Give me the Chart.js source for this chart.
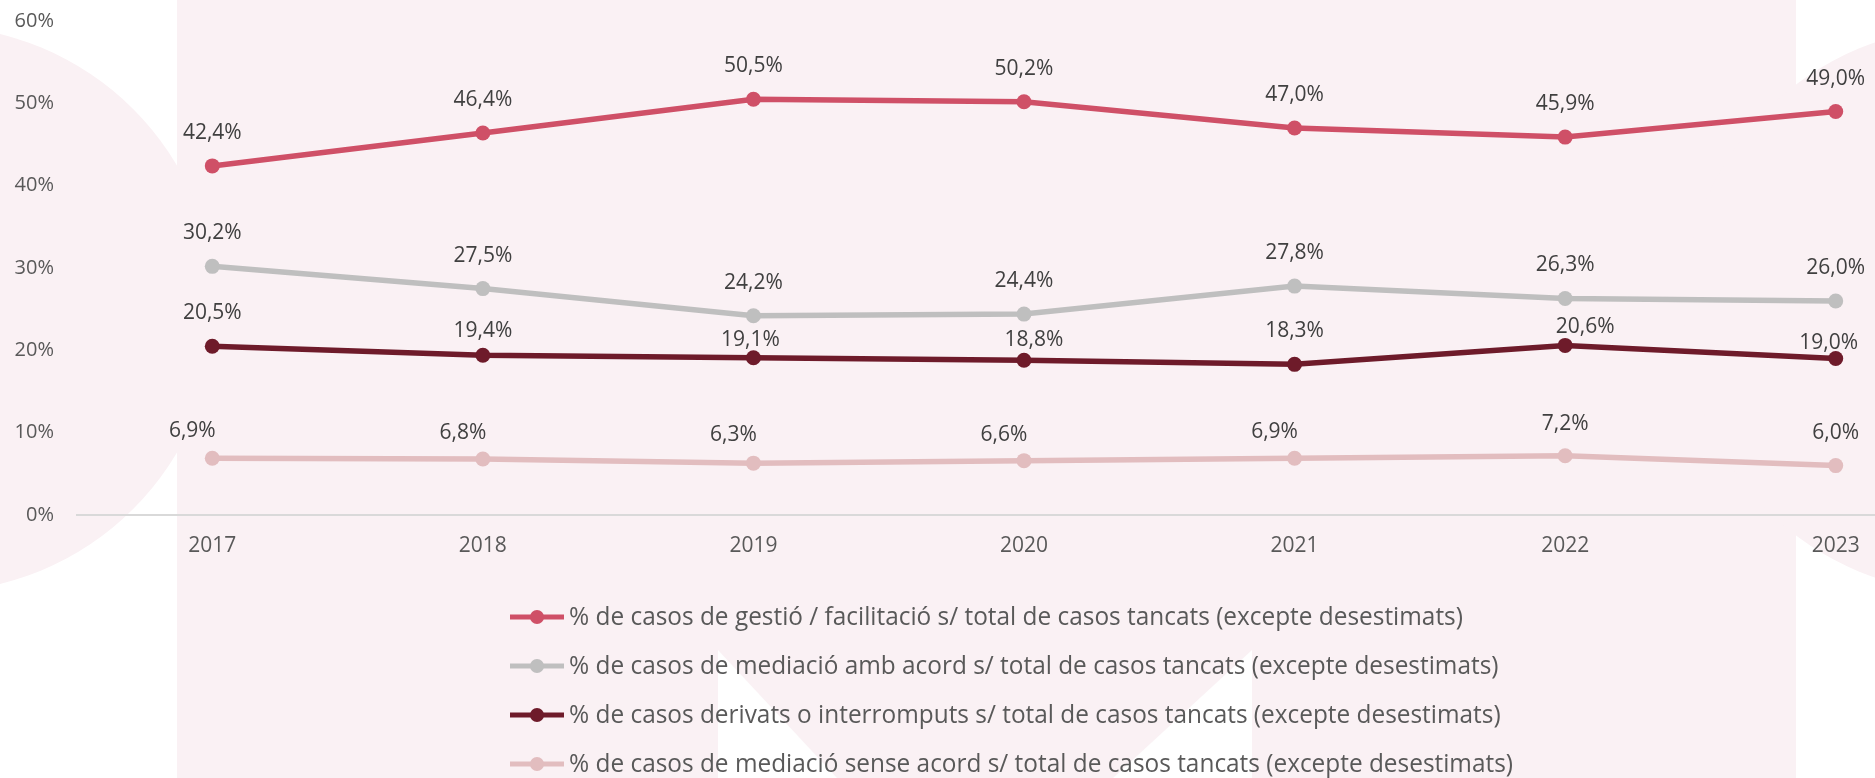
<!DOCTYPE html>
<html>
<head>
<meta charset="utf-8">
<script src="https://cdn.jsdelivr.net/npm/chart.js@4.4.1/dist/chart.umd.min.js"></script>
<style>
  html, body { margin: 0; padding: 0; background: #fff; overflow: hidden; }
  #wrap { width: 2000px; height: 778px; }
</style>
</head>
<body>
<div id="wrap"><canvas id="chart1" width="2000" height="778"></canvas></div>
<script>
// Data
const years = ['2017', '2018', '2019', '2020', '2021', '2022', '2023'];
const gestio = [42.4, 46.4, 50.5, 50.2, 47.0, 45.9, 49.0];
const ambAcord = [30.2, 27.5, 24.2, 24.4, 27.8, 26.3, 26.0];
const derivats = [20.5, 19.4, 19.1, 18.8, 18.3, 20.6, 19.0];
const senseAcord = [6.9, 6.8, 6.3, 6.6, 6.9, 7.2, 6.0];
const yTicks = [0, 10, 20, 30, 40, 50, 60];

const seriesNames = [
  '% de casos de gestió / facilitació s/ total de casos tancats (excepte desestimats)',
  '% de casos de mediació amb acord s/ total de casos tancats (excepte desestimats)',
  '% de casos derivats o interromputs s/ total de casos tancats (excepte desestimats)',
  '% de casos de mediació sense acord s/ total de casos tancats (excepte desestimats)'
];
const seriesColors = ['#CF5067', '#BFBFBF', '#6E1B2A', '#E2BDBF'];

// hand-placed label nudges (like the moved labels in the original)
const labelShiftX = [
  [0, 0, 0, 0, 0, 0, 0],
  [0, 0, 0, 0, 0, 0, 0],
  [0, 0, -3, 10, 0, 20, -7],
  [-20, -20, -20, -20, -20, 0, 0]
];
const labelLift = [
  [33, 33, 33, 33, 33, 33, 33],
  [33, 33, 33, 33, 33, 33, 33],
  [33, 24, 18, 20, 33, 18, 16],
  [27, 26, 28, 26, 26, 32, 33]
];

const FONT = "'Open Sans', 'Noto Sans', sans-serif";
const fmt = v => v.toFixed(1).replace('.', ',') + '%';

// pink logo shapes behind the chart
const backdrop = {
  id: 'backdrop',
  beforeDraw(chart) {
    const c = chart.ctx;
    c.save();
    c.fillStyle = '#FAF1F4';
    c.fillRect(177, 0, 1796 - 177, 778);
    c.beginPath();
    c.arc(-67, 309, 283, 0, Math.PI * 2);
    c.fill();
    c.beginPath();
    c.arc(1967, 310, 283, 0, Math.PI * 2);
    c.fill();
    c.fillStyle = '#ffffff';
    c.beginPath();
    c.moveTo(718, 650); c.lineTo(718, 778); c.lineTo(837, 778);
    c.closePath(); c.fill();
    c.beginPath();
    c.moveTo(1252, 650); c.lineTo(1252, 778); c.lineTo(1113, 778);
    c.closePath(); c.fill();
    c.restore();
  }
};

const valueLabels = {
  id: 'valueLabels',
  afterDatasetsDraw(chart) {
    const c = chart.ctx;
    c.save();
    c.font = '21px ' + FONT;
    c.fillStyle = '#404040';
    c.textAlign = 'center';
    c.textBaseline = 'middle';
    chart.data.datasets.forEach((ds, i) => {
      chart.getDatasetMeta(i).data.forEach((pt, j) => {
        c.fillText(fmt(ds.data[j]), pt.x + labelShiftX[i][j], pt.y - labelLift[i][j]);
      });
    });
    c.restore();
  }
};

const legendRows = {
  id: 'legendRows',
  afterDraw(chart) {
    const c = chart.ctx;
    const x0 = 510, top = 617, gap = 49;
    c.save();
    c.font = '25px ' + FONT;
    const widest = Math.max(...chart.data.datasets.map(d => c.measureText(d.label).width));
    const sx = 944 / widest;
    chart.data.datasets.forEach((ds, i) => {
      const y = top + i * gap;
      c.strokeStyle = ds.borderColor;
      c.lineWidth = 5;
      c.beginPath();
      c.moveTo(x0, y); c.lineTo(x0 + 54, y);
      c.stroke();
      c.fillStyle = ds.borderColor;
      c.beginPath();
      c.arc(x0 + 27, y, 7, 0, Math.PI * 2);
      c.fill();
      c.save();
      c.translate(x0 + 59, y);
      c.scale(sx, 1);
      c.fillStyle = '#595959';
      c.textBaseline = 'middle';
      c.fillText(ds.label, 0, 1);
      c.restore();
    });
    c.restore();
  }
};

const allSeries = [gestio, ambAcord, derivats, senseAcord];

new Chart(document.getElementById('chart1').getContext('2d'), {
  type: 'line',
  data: {
    labels: years,
    datasets: allSeries.map((vals, i) => ({
      label: seriesNames[i],
      data: vals,
      borderColor: seriesColors[i],
      backgroundColor: seriesColors[i],
      pointBackgroundColor: seriesColors[i],
      borderWidth: 5.5,
      pointRadius: 7.5,
      pointBorderWidth: 0,
      tension: 0,
      order: i
    }))
  },
  options: {
    responsive: false,
    animation: false,
    devicePixelRatio: 1,
    layout: { padding: { top: 21, right: 29, bottom: 203, left: 0 } },
    plugins: {
      legend: { display: false },
      tooltip: { enabled: false }
    },
    scales: {
      x: {
        offset: true,
        grid: { display: false, drawTicks: false },
        border: { display: true, color: '#D9D9D9', width: 2 },
        ticks: { color: '#595959', font: { family: FONT, size: 21 }, padding: 18 },
        afterFit: s => { s.height = 60; }
      },
      y: {
        min: yTicks[0],
        max: yTicks[yTicks.length - 1],
        grid: { display: false, drawTicks: false },
        border: { display: false },
        afterBuildTicks: s => { s.ticks = yTicks.map(v => ({ value: v })); },
        ticks: {
          color: '#595959',
          font: { family: FONT, size: 20 },
          padding: 23,
          callback: v => v + '%'
        },
        afterFit: s => {
          s.width = 77;
          s.paddingTop = 0;
          s.paddingBottom = 0;
        }
      }
    }
  },
  plugins: [backdrop, valueLabels, legendRows]
});
</script>
</body>
</html>
